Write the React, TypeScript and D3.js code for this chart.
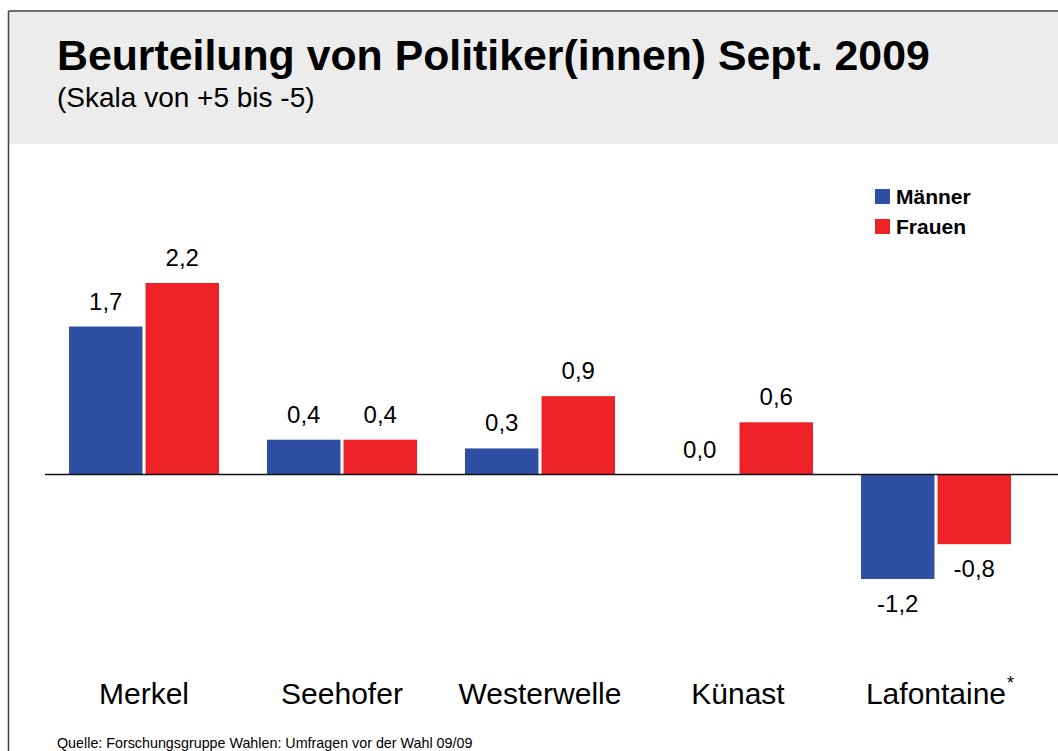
import React, { useEffect, useRef } from 'react';
import * as d3 from 'd3';

const categories = ['Merkel', 'Seehofer', 'Westerwelle', 'Künast', 'Lafontaine'];
const maenner = [1.7, 0.4, 0.3, 0.0, -1.2];
const frauen = [2.2, 0.4, 0.9, 0.6, -0.8];
const seriesNames = ['Männer', 'Frauen'];
const colors = ['#2e4fa3', '#ee2226'];

const App = () => {
  const ref = useRef<SVGSVGElement | null>(null);

  useEffect(() => {
    const width = 1058;
    const height = 751;
    const svg = d3.select(ref.current);
    svg.selectAll('*').remove();
    const font = 'Liberation Sans, Arial, sans-serif';

    // header box
    svg.append('rect').attr('x', 0).attr('y', 0).attr('width', width).attr('height', height).attr('fill', '#fff');
    svg.append('rect').attr('x', 9).attr('y', 11).attr('width', width).attr('height', 133).attr('fill', '#ececec');
    svg.append('line').attr('x1', 8.5).attr('x2', width).attr('y1', 11).attr('y2', 11).attr('stroke', '#444').attr('stroke-width', 1.5);
    svg.append('line').attr('x1', 8.5).attr('x2', 8.5).attr('y1', 11).attr('y2', height).attr('stroke', '#444').attr('stroke-width', 1.5);

    svg.append('text').attr('x', 57).attr('y', 70).text('Beurteilung von Politiker(innen) Sept. 2009')
      .attr('font-family', font).attr('font-weight', 'bold').attr('font-size', 42.8).attr('fill', '#000');
    svg.append('text').attr('x', 57).attr('y', 107).text('(Skala von +5 bis -5)')
      .attr('font-family', font).attr('font-size', 28).attr('fill', '#000');

    const x = d3.scaleBand().domain(categories).range([45, 1035]).paddingInner(0).paddingOuter(0);
    const inner = d3.scaleBand().domain(seriesNames).range([0, 150]).paddingInner(0.04);
    const y = d3.scaleLinear().domain([-1.2, 2.2]).range([579, 283]);

    const data = categories.flatMap((c, i) => [
      { c, s: 'Männer', v: maenner[i], col: colors[0] },
      { c, s: 'Frauen', v: frauen[i], col: colors[1] },
    ]);
    const off = (x.bandwidth() - 150) / 2;

    svg.append('g').selectAll('rect').data(data).enter().append('rect')
      .attr('x', d => (x(d.c) as number) + off + (inner(d.s) as number))
      .attr('width', inner.bandwidth())
      .attr('y', d => y(Math.max(0, d.v)))
      .attr('height', d => Math.abs(y(d.v) - y(0)))
      .attr('fill', d => d.col);

    svg.append('line').attr('x1', 45).attr('x2', width).attr('y1', y(0)).attr('y2', y(0))
      .attr('stroke', '#111').attr('stroke-width', 1.5);

    svg.append('g').selectAll('text').data(data).enter().append('text')
      .attr('x', d => (x(d.c) as number) + off + (inner(d.s) as number) + inner.bandwidth() / 2)
      .attr('y', d => d.v >= 0 ? y(d.v) - 17 : y(d.v) + 33)
      .attr('text-anchor', 'middle')
      .attr('font-family', font).attr('font-size', 24).attr('fill', '#000')
      .text(d => d3.format('.1f')(d.v).replace('.', ',').replace('−', '-'));

    const labels = svg.append('g').selectAll('text').data(categories).enter().append('text')
      .attr('x', d => (x(d) as number) + x.bandwidth() / 2)
      .attr('y', 704)
      .attr('text-anchor', 'middle')
      .attr('font-family', font).attr('font-size', 30).attr('fill', '#000')
      .text(d => d);
    const lastNode = labels.nodes()[categories.length - 1] as SVGTextElement;
    const bb = lastNode.getBBox();
    svg.append('text').attr('x', bb.x + bb.width + 1).attr('y', 689).text('*')
      .attr('font-family', font).attr('font-size', 18).attr('fill', '#000');

    // legend
    const lg = svg.append('g').attr('transform', 'translate(875,189)');
    seriesNames.forEach((s, i) => {
      lg.append('rect').attr('x', 0).attr('y', i * 30).attr('width', 15).attr('height', 15).attr('fill', colors[i]);
      lg.append('text').attr('x', 21).attr('y', i * 30 + 14.5).text(s)
        .attr('font-family', font).attr('font-weight', 'bold').attr('font-size', 21).attr('fill', '#000');
    });

    svg.append('text').attr('x', 57).attr('y', 748).text('Quelle: Forschungsgruppe Wahlen: Umfragen vor der Wahl 09/09')
      .attr('font-family', font).attr('font-size', 14.3).attr('fill', '#000');
  }, []);

  return (
    <svg ref={ref} width={1058} height={751} style={{ position: 'fixed', top: 0, left: 0 }} />
  );
};

export default App;
